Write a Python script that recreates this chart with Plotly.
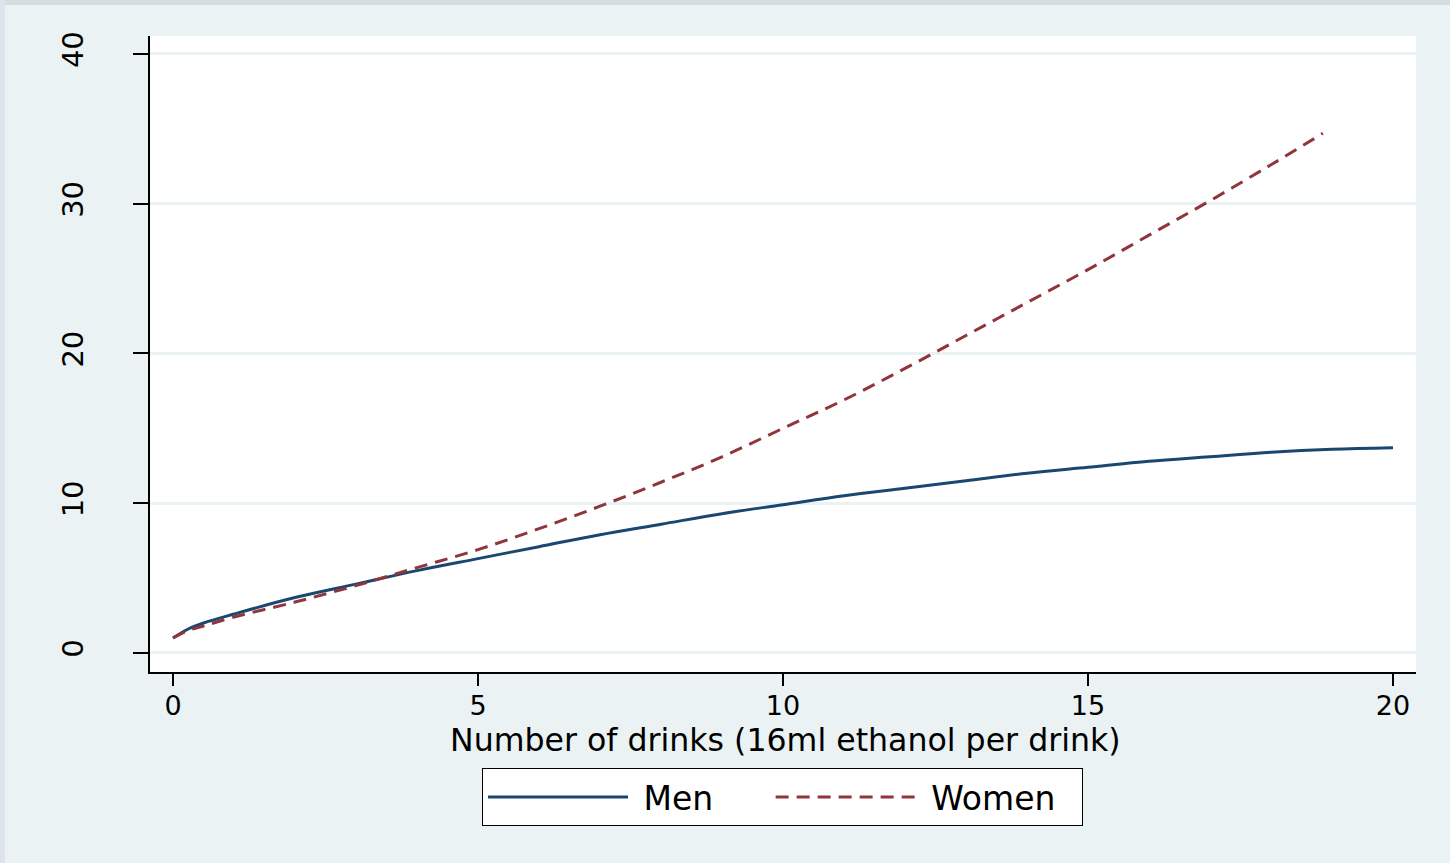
import plotly.graph_objects as go

# Data
men_x = [0, 0.25, 0.5, 1, 2, 3, 4, 5, 6, 7, 8, 9, 10, 11, 12, 13, 14, 15, 16, 17, 18, 19, 20]
men_y = [1.0, 1.6, 2.0, 2.6, 3.7, 4.6, 5.5, 6.3, 7.1, 7.9, 8.6, 9.3, 9.9, 10.5, 11.0, 11.5, 12.0, 12.4, 12.8, 13.1, 13.4, 13.6, 13.7]

women_x = [0, 0.25, 0.5, 1, 2, 3, 4, 5, 6, 7, 8, 9, 10, 11, 12, 13, 14, 15, 16, 17, 18, 18.85]
women_y = [1.0, 1.5, 1.8, 2.4, 3.4, 4.5, 5.7, 6.9, 8.3, 9.8, 11.4, 13.1, 15.0, 16.9, 19.0, 21.2, 23.4, 25.6, 27.9, 30.2, 32.6, 34.7]

x_ticks = [0, 5, 10, 15, 20]
y_ticks = [0, 10, 20, 30, 40]
x_title = "Number of drinks (16ml ethanol per drink)"
series_names = ["Men", "Women"]

FONT = "DejaVu Sans, Arial, sans-serif"
BG = "#EAF2F3"
NB = "\u00a0"

# plot-area pixel geometry (for paper-coordinate decorations)
L, R, T, B = 150, 1416, 36, 672
def px(x): return (x - L) / (R - L)
def py(y): return (B - y) / (B - T)

fig = go.Figure()
fig.add_trace(go.Scatter(x=men_x, y=men_y, mode="lines", name=NB + series_names[0] + NB * 5,
                         line=dict(color="#1A476F", width=3, shape="spline")))
fig.add_trace(go.Scatter(x=women_x, y=women_y, mode="lines", name=NB + series_names[1] + NB * 2,
                         line=dict(color="#90353B", width=3, dash="13px,8px", shape="spline")))

fig.update_layout(
    width=1450, height=863,
    paper_bgcolor=BG, plot_bgcolor="white",
    margin=dict(l=L, r=1450 - R, t=T, b=863 - B),
    font=dict(family=FONT, size=28, color="black"),
    xaxis=dict(range=[-0.377, 20.377], tickvals=x_ticks, ticks="outside", ticklen=12,
               tickwidth=2, tickcolor="black", showline=True, linecolor="black", linewidth=2,
               showgrid=False, zeroline=False, tickfont=dict(size=27), ticklabelstandoff=-3),
    yaxis=dict(range=[-1.27, 41.2], tickvals=y_ticks, ticks="outside", ticklen=15,
               tickwidth=2, tickcolor="black", showline=True, linecolor="black", linewidth=2,
               showgrid=True, gridcolor=BG, gridwidth=3, zeroline=False, tickangle=-90,
               tickfont=dict(size=29), ticklabelstandoff=38),
    legend=dict(orientation="h", x=px(482), xanchor="left", y=py(768), yanchor="top",
                bgcolor="white", bordercolor="black", borderwidth=1,
                font=dict(size=33), itemwidth=140),
    showlegend=True,
    annotations=[dict(text=x_title, xref="paper", yref="paper", x=px(785), y=py(740),
                      xanchor="center", yanchor="middle", showarrow=False,
                      font=dict(size=31.6, family=FONT, color="black"))],
    shapes=[
        dict(type="rect", xref="paper", yref="paper", x0=px(0), x1=px(1450), y0=py(5), y1=py(0),
             fillcolor="#D6DDE2", line=dict(width=0), layer="below"),
        dict(type="rect", xref="paper", yref="paper", x0=px(0), x1=px(5), y0=py(863), y1=py(0),
             fillcolor="#DFE3EB", line=dict(width=0), layer="below"),
    ],
)

fig.write_html("out.html", config={"displayModeBar": False},
               post_script="document.body.style.margin='0';")
